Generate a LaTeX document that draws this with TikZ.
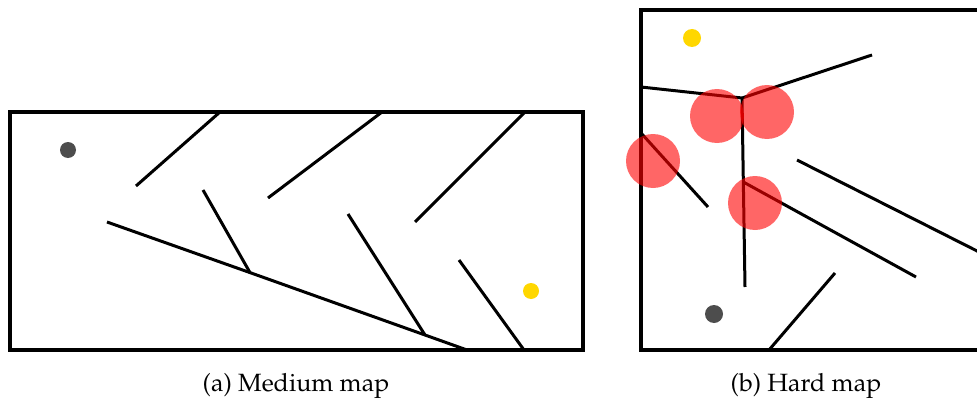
\documentclass[tikz,border=0pt]{standalone}
\usepackage[T1]{fontenc}
\usepackage{mathpazo}
\definecolor{startgray}{HTML}{4D4D4D}
\definecolor{goalyellow}{HTML}{FFD700}
\begin{document}
\begin{tikzpicture}[x=1pt,y=-1pt]
\tikzstyle{wall}=[line width=3pt]
\tikzstyle{border}=[line width=3.5pt]
\tikzstyle{danger}=[fill=red,opacity=0.6]
\tikzstyle{caption}=[font=\fontsize{25}{30}\selectfont]
\useasboundingbox (0,0) rectangle (977,404);

% medium map
\draw[border] (10,112) rectangle (583,350);
\fill[startgray]  (68,150) circle (8);
\fill[goalyellow] (531,291) circle (8);
\coordinate (m1) at (250,272.6);
\coordinate (m2) at (425,335);
\draw[wall] (136,186) -- (220,112);
\draw[wall] (268,198) -- (382,112);
\draw[wall] (415,222) -- (525,112);
\draw[wall] (107,222) -- (m1) -- (m2) -- (467,350);
\draw[wall] (203,190) -- (m1);
\draw[wall] (348,214) -- (m2);
\draw[wall] (459,260) -- (524,350);
\node[caption] (capa) at (296,386) {(a) Medium map};

% hard map
\begin{scope}
\clip (0,0) rectangle (977,404);
\draw[border] (641,10) rectangle (981,350);
\fill[goalyellow] (692,38) circle (9);
\fill[startgray]  (714,314) circle (9);
\coordinate (j) at (742,98);
\coordinate (k) at (743.3,182);
\draw[wall] (641,87) -- (j) -- (872,55);
\draw[wall] (j) -- (745,287);
\draw[wall] (641,133) -- (708,207);
\draw[wall] (k) -- (916,277);
\draw[wall] (797,160) -- (985,255);
\draw[wall] (769,350) -- (835,273);
\fill[danger] (717,116) circle (27);
\fill[danger] (767,112) circle (27);
\fill[danger] (653,161) circle (27);
\fill[danger] (755,203) circle (27);
\end{scope}
\node[caption] (capb) at (806,386) {(b) Hard map};
\end{tikzpicture}
\end{document}
